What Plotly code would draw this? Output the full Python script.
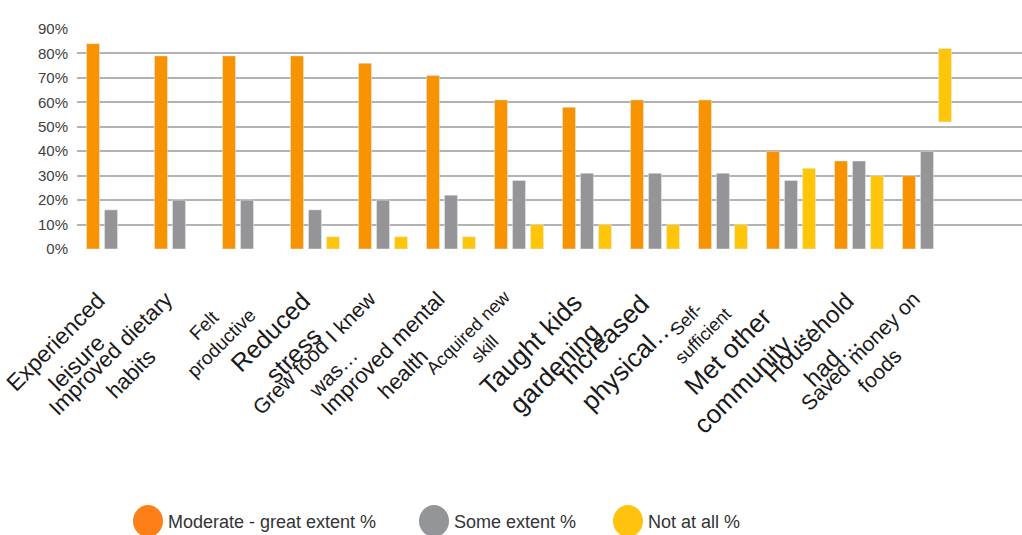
import plotly.graph_objects as go

categories = ["Experienced leisure", "Improved dietary habits", "Felt productive", "Reduced stress",
              "Grew food I knew was…", "Improved mental health", "Acquired new skill",
              "Taught kids gardening", "Increased physical…", "Self-sufficient",
              "Met other community…", "Household had…", "Saved money on foods"]
tick_labels = ["Experienced<br>leisure", "Improved dietary<br>habits", "Felt<br>productive",
               "Reduced<br>stress", "Grew food I knew<br>was…", "Improved mental<br>health",
               "Acquired new<br>skill", "Taught kids<br>gardening", "Increased<br>physical…",
               "Self-<br>sufficient", "Met other<br>community…", "Household<br>had…",
               "Saved money on<br>foods"]
label_sizes = [23, 22, 19, 25, 21, 22, 18, 26, 26, 18, 26, 24, 21]

series_names = ["Moderate - great extent %", "Some extent %", "Not at all %"]
moderate = [84, 79, 79, 79, 76, 71, 61, 58, 61, 61, 40, 36, 30]
some = [16, 20, 20, 16, 20, 22, 28, 31, 31, 31, 28, 36, 40]
not_at_all = [None, None, None, 5, 5, 5, 10, 10, 10, 10, 33, 30, 30]
not_at_all_base = [0, 0, 0, 0, 0, 0, 0, 0, 0, 0, 0, 0, 52]

y_ticks = [0, 10, 20, 30, 40, 50, 60, 70, 80, 90]
y_tick_text = [f"{v}%" for v in y_ticks]

bar_colors = ["#f79200", "#959598", "#ffc508"]
legend_colors = ["#fd7f17", "#939598", "#ffc20e"]
legend_ids = ["legend", "legend2", "legend3"]
legend_left_px = [128, 414, 608]

SANS = "Liberation Sans, Arial, sans-serif"
W, H = 1022, 535
ML, MR, MT, MB = 77, 0, 29, 286
LEGEND_CY = 521

fig = go.Figure()
fig.add_trace(go.Bar(x=categories, y=moderate, marker_color=bar_colors[0], showlegend=False,
                     name=series_names[0]))
fig.add_trace(go.Bar(x=categories, y=some, marker_color=bar_colors[1], showlegend=False,
                     name=series_names[1]))
fig.add_trace(go.Bar(x=categories, y=not_at_all, base=not_at_all_base, marker_color=bar_colors[2],
                     showlegend=False, name=series_names[2]))

for name, col, lid in zip(series_names, legend_colors, legend_ids):
    fig.add_trace(go.Scatter(x=[None], y=[None], mode="markers", name=name, legend=lid,
                             marker=dict(symbol="circle", size=16, color=col,
                                         line=dict(color=col, width=5))))

annotations = []
for cat, lab, s in zip(categories, tick_labels, label_sizes):
    h = 2.45 * s + 2
    annotations.append(dict(
        x=cat, xref="x", y=0, yref="paper", text=lab, showarrow=False,
        textangle=-45, align="center", xanchor="right", yanchor="top",
        xshift=-18 + 0.707 * h, yshift=-35,
        font=dict(family=SANS, size=s, color="#1a1a1a")))

legend_common = dict(orientation="h", xref="container", yref="container",
                     y=1 - LEGEND_CY / H, xanchor="left", yanchor="middle",
                     font=dict(family=SANS, size=18, color="#333333"),
                     itemsizing="trace", bgcolor="rgba(0,0,0,0)")
legends = {lid: dict(legend_common, x=px / W) for lid, px in zip(legend_ids, legend_left_px)}

# larger round swatches behind the legend symbols
plot_w = W - ML - MR
plot_h = H - MT - MB
shapes = []
for px, col in zip(legend_left_px, legend_colors):
    cx = (px + 20 - ML) / plot_w
    cy = (H - MB - LEGEND_CY) / plot_h
    shapes.append(dict(type="circle", xref="paper", yref="paper",
                       xsizemode="pixel", ysizemode="pixel", xanchor=cx, yanchor=cy,
                       x0=-15, x1=15, y0=-16, y1=16,
                       fillcolor=col, line=dict(width=0), layer="above"))

fig.update_layout(
    width=W, height=H,
    margin=dict(l=ML, r=MR, t=MT, b=MB),
    paper_bgcolor="white", plot_bgcolor="white",
    barmode="group", bargap=0.206, bargroupgap=0.28,
    xaxis=dict(range=[-0.5, 13.397], showticklabels=False, showgrid=False,
               zeroline=False, showline=False, ticks=""),
    yaxis=dict(range=[0, 90], tickmode="array", tickvals=y_ticks, ticktext=y_tick_text,
               showgrid=True, gridcolor="#b3b3b3", gridwidth=2,
               zeroline=False, showline=False, ticks="", ticklabelstandoff=8,
               tickfont=dict(family=SANS, size=15, color="#404040")),
    annotations=annotations,
    shapes=shapes,
    showlegend=True,
    **legends,
)

fig.write_html("out.html")
